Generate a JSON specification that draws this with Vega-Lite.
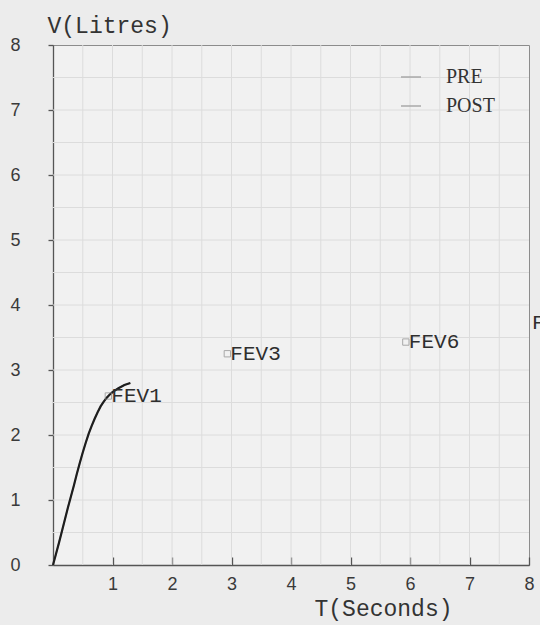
{
  "$schema": "https://vega.github.io/schema/vega-lite/v6.json",
  "width": 476,
  "height": 520,
  "autosize": {"type": "none"},
  "padding": {"left": 53, "top": 45, "right": 11, "bottom": 60},
  "background": "#ececec",
  "config": {
    "view": {"stroke": "#8c8c8c", "strokeWidth": 1, "fill": "#f1f1f1"},
    "axis": {
      "domainColor": "#555555",
      "domainWidth": 1.3,
      "tickColor": "#555555",
      "tickWidth": 1.3,
      "grid": false,
      "ticks": true,
      "labelFont": "Liberation Sans",
      "labelFontSize": 18,
      "labelColor": "#3a3a3a",
      "titleFont": "Liberation Mono",
      "titleFontSize": 23,
      "titleFontWeight": "normal",
      "titleColor": "#333333"
    }
  },
  "datasets": {
    "curve": [
      {"t": 0, "v": 0, "series": "PRE"},
      {"t": 0.05, "v": 0.17, "series": "PRE"},
      {"t": 0.1, "v": 0.34, "series": "PRE"},
      {"t": 0.15, "v": 0.52, "series": "PRE"},
      {"t": 0.2, "v": 0.7, "series": "PRE"},
      {"t": 0.25, "v": 0.88, "series": "PRE"},
      {"t": 0.3, "v": 1.05, "series": "PRE"},
      {"t": 0.35, "v": 1.22, "series": "PRE"},
      {"t": 0.4, "v": 1.4, "series": "PRE"},
      {"t": 0.45, "v": 1.57, "series": "PRE"},
      {"t": 0.5, "v": 1.73, "series": "PRE"},
      {"t": 0.55, "v": 1.88, "series": "PRE"},
      {"t": 0.6, "v": 2.02, "series": "PRE"},
      {"t": 0.65, "v": 2.14, "series": "PRE"},
      {"t": 0.7, "v": 2.25, "series": "PRE"},
      {"t": 0.75, "v": 2.35, "series": "PRE"},
      {"t": 0.8, "v": 2.44, "series": "PRE"},
      {"t": 0.85, "v": 2.51, "series": "PRE"},
      {"t": 0.9, "v": 2.57, "series": "PRE"},
      {"t": 0.95, "v": 2.62, "series": "PRE"},
      {"t": 1.0, "v": 2.66, "series": "PRE"},
      {"t": 1.1, "v": 2.72, "series": "PRE"},
      {"t": 1.2, "v": 2.77, "series": "PRE"},
      {"t": 1.3, "v": 2.8, "series": "PRE"}
    ],
    "marks": [
      {"t": 0.93, "v": 2.6, "label": "FEV1", "marker": true},
      {"t": 2.93, "v": 3.25, "label": "FEV3", "marker": true},
      {"t": 5.93, "v": 3.43, "label": "FEV6", "marker": true},
      {"t": 8.0, "v": 3.72, "label": "F", "marker": false}
    ],
    "gridx": [
      {"g": 0.5}, {"g": 1}, {"g": 1.5}, {"g": 2}, {"g": 2.5}, {"g": 3}, {"g": 3.5}, {"g": 4},
      {"g": 4.5}, {"g": 5}, {"g": 5.5}, {"g": 6}, {"g": 6.5}, {"g": 7}, {"g": 7.5}
    ],
    "gridy": [
      {"g": 0.5}, {"g": 1}, {"g": 1.5}, {"g": 2}, {"g": 2.5}, {"g": 3}, {"g": 3.5}, {"g": 4},
      {"g": 4.5}, {"g": 5}, {"g": 5.5}, {"g": 6}, {"g": 6.5}, {"g": 7}, {"g": 7.5}
    ]
  },
  "layer": [
    {
      "data": {"name": "gridx"},
      "mark": {"type": "rule", "color": "#dcdcdc", "strokeWidth": 1},
      "encoding": {
        "x": {"field": "g", "type": "quantitative", "scale": {"domain": [0, 8], "nice": false},
          "axis": {
            "title": "T(Seconds)",
            "values": [1, 2, 3, 4, 5, 6, 7, 8],
            "format": "d",
            "tickSize": -8,
            "labelPadding": 18,
            "labelFlush": false,
            "titleX": 330,
            "titleY": 43,
            "titleAlign": "center",
            "titleBaseline": "middle"
          }
        }
      }
    },
    {
      "data": {"name": "gridy"},
      "mark": {"type": "rule", "color": "#dcdcdc", "strokeWidth": 1},
      "encoding": {
        "y": {"field": "g", "type": "quantitative", "scale": {"domain": [0, 8], "nice": false},
          "axis": {
            "title": "V(Litres)",
            "values": [0, 1, 2, 3, 4, 5, 6, 7, 8],
            "format": "d",
            "tickSize": 5,
            "labelPadding": 28,
            "labelFlush": false,
            "titleAngle": 0,
            "titleX": -6,
            "titleY": -20,
            "titleAlign": "left",
            "titleBaseline": "middle"
          }
        }
      }
    },
    {
      "data": {"name": "curve"},
      "mark": {"type": "line", "strokeWidth": 1.5},
      "encoding": {
        "x": {"field": "t", "type": "quantitative"},
        "y": {"field": "v", "type": "quantitative"},
        "color": {
          "field": "series", "type": "nominal",
          "scale": {"domain": ["PRE", "POST"], "range": ["#a8a8a8", "#a8a8a8"]},
          "legend": {
            "title": null,
            "orient": "none",
            "legendX": 347,
            "legendY": 21,
            "symbolType": "stroke",
            "symbolSize": 400,
            "symbolStrokeWidth": 1.5,
            "labelFont": "Liberation Serif",
            "labelFontSize": 20,
            "labelColor": "#333333",
            "labelOffset": 24,
            "rowPadding": 8
          }
        }
      }
    },
    {
      "data": {"name": "curve"},
      "mark": {"type": "line", "strokeWidth": 2.2, "color": "#1e1e1e"},
      "encoding": {
        "x": {"field": "t", "type": "quantitative"},
        "y": {"field": "v", "type": "quantitative"}
      }
    },
    {
      "data": {"name": "marks"},
      "transform": [{"filter": "datum.marker"}],
      "mark": {"type": "point", "shape": "square", "size": 40, "filled": false, "stroke": "#8a8a8a", "strokeWidth": 1},
      "encoding": {
        "x": {"field": "t", "type": "quantitative"},
        "y": {"field": "v", "type": "quantitative"}
      }
    },
    {
      "data": {"name": "marks"},
      "mark": {"type": "text", "align": "left", "baseline": "middle", "dx": 3, "font": "Liberation Mono", "fontSize": 21, "color": "#2e2e2e", "clip": false},
      "encoding": {
        "x": {"field": "t", "type": "quantitative"},
        "y": {"field": "v", "type": "quantitative"},
        "text": {"field": "label"}
      }
    }
  ]
}
